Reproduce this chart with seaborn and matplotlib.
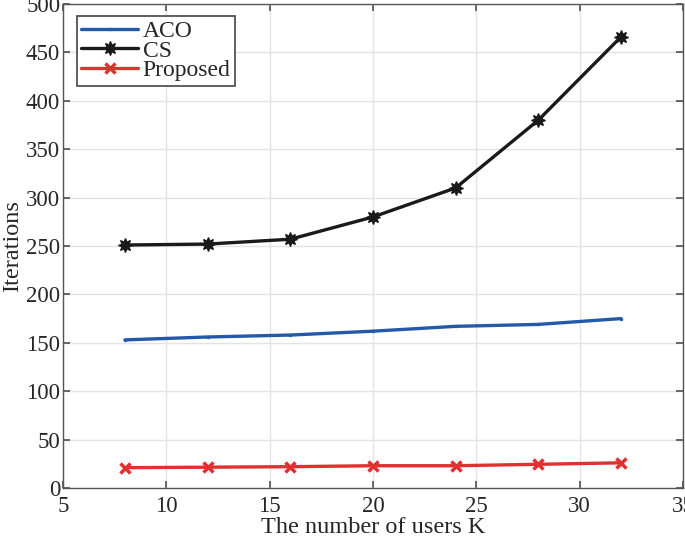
import matplotlib
matplotlib.use("Agg")
import matplotlib.pyplot as plt
import pandas as pd
import seaborn as sns

users_k = [8, 12, 16, 20, 24, 28, 32]
aco_iters = [153, 156, 158, 162, 167, 169, 175]
cs_iters = [251, 252, 257, 280, 310, 380, 466]
proposed_iters = [21, 21.5, 22, 23, 23, 24.5, 26]

sns.set_theme(style="whitegrid")
plt.rcParams["font.family"] = ["Liberation Serif", "DejaVu Serif"]

fig, ax = plt.subplots(figsize=(6.85, 5.4), dpi=100)

series = [
    ("ACO", aco_iters, "#2359a8", ".", 3, 1),
    ("CS", cs_iters, "#1a1a1a", (8, 1, 0), 10, 1),
    ("Proposed", proposed_iters, "#e03030", "x", 7, 2.5),
]
for name, vals, color, mk, ms, mew in series:
    df = pd.DataFrame({"K": users_k, "Iterations": vals})
    sns.lineplot(data=df, x="K", y="Iterations", ax=ax, color=color, linewidth=2.4,
                 marker=mk, markersize=ms, markeredgewidth=mew,
                 markeredgecolor=color, markerfacecolor=color, label=name)

ax.set_xlim(5, 35)
ax.set_ylim(0, 500)
ax.set_xticks(range(5, 36, 5))
ax.set_yticks(range(0, 501, 50))
ax.grid(True, color="#e3e3e3", linewidth=1)
for s in ax.spines.values():
    s.set_color("#555555")
    s.set_linewidth(1)
ax.tick_params(direction="in", length=5, color="#555555", labelsize=16.5,
               top=True, right=True, bottom=True, left=True)
ax.tick_params(axis="x", pad=6)
ax.tick_params(axis="y", pad=2)
ax.set_xlabel("The number of users K", fontsize=17.5, labelpad=0)
ax.set_ylabel("Iterations", fontsize=17.5, labelpad=2)

leg = ax.legend(loc="upper left", fontsize=17, frameon=True, fancybox=False,
                edgecolor="#444444", framealpha=1, handlelength=2.4,
                handletextpad=0.2, borderpad=0.2, labelspacing=-0.08,
                borderaxespad=0, bbox_to_anchor=(0.022, 0.976))
leg.get_frame().set_linewidth(1.2)

fig.subplots_adjust(left=0.092, right=0.997, top=0.9926, bottom=0.0963)
fig.savefig("out.png", dpi=100)
